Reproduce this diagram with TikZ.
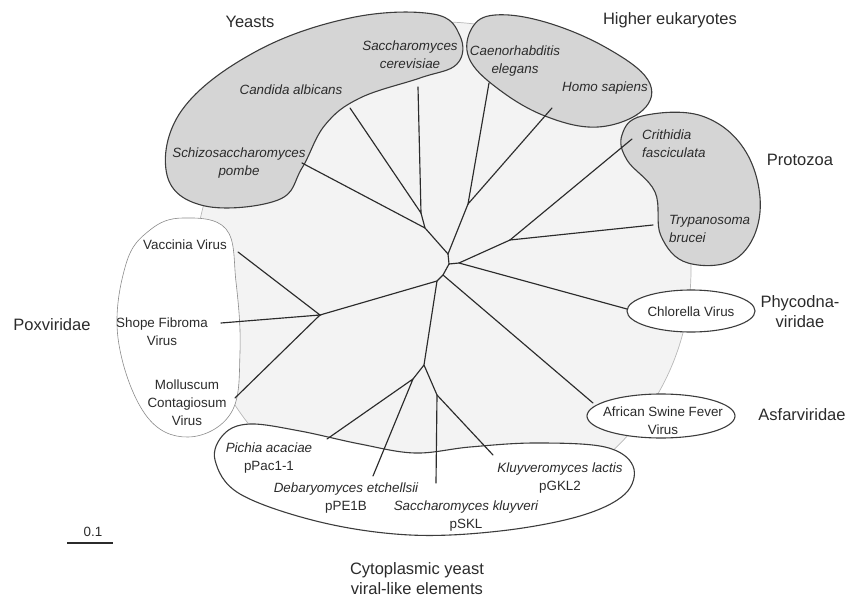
\documentclass[tikz,border=0pt]{standalone}
\usepackage{fontspec}
\setmainfont{Liberation Sans}
\usetikzlibrary{positioning}
\definecolor{Ink}{HTML}{2B2B2B}
\definecolor{DiscFill}{HTML}{F3F3F3}
\definecolor{DiscEdge}{HTML}{B8B8B8}
\definecolor{CladeFill}{HTML}{D5D5D5}
\definecolor{CladeEdge}{HTML}{3C3C3C}
\definecolor{PoxEdge}{HTML}{8C8C8C}
\tikzset{
  treedisc/.style={draw=DiscEdge,fill=DiscFill,line width=0.7pt},
  cladeblob/.style={draw=CladeEdge,fill=CladeFill,line width=1.1pt},
  virusblob/.style={draw=CladeEdge,fill=white,line width=1.1pt},
  poxblob/.style={draw=PoxEdge,fill=white,line width=0.6pt},
  treearm/.style={draw=Ink,line width=1.15pt,line cap=round},
  taxon/.style={align=center,font=\fontsize{13.4}{18}\selectfont\itshape,text=Ink,inner sep=0pt},
  virus/.style={align=center,font=\fontsize{13.4}{18}\selectfont,text=Ink,inner sep=0pt},
  grouplabel/.style={align=center,font=\fontsize{16.5}{20}\selectfont,text=Ink,inner sep=0pt}
}

\begin{document}
\begin{tikzpicture}[x=1pt,y=-1pt]
  \useasboundingbox (0,0) rectangle (847,597);

  % background disc
  \draw[treedisc] (443,270) circle[radius=248pt];

  % clade outlines
  \draw[cladeblob] plot[smooth cycle,tension=0.65] coordinates {(433,14) (460,36) (457,64) (420,78) (360,98) (325,125) (302,168) (278,200) (205,206) (167,175) (182,110) (255,52) (350,18)};
  \draw[cladeblob] plot[smooth cycle,tension=0.65] coordinates {(472,28) (495,15) (545,22) (605,47) (648,80) (643,110) (598,127) (545,116) (497,88) (469,58)};
  \draw[cladeblob] plot[smooth cycle,tension=0.65] coordinates {(642,116) (702,116) (746,152) (760,212) (737,258) (688,263) (661,236) (655,192) (627,160) (622,135)};
  \draw[poxblob] plot[smooth cycle,tension=0.65] coordinates {(183,218) (226,229) (236,282) (240,352) (231,413) (188,437) (145,414) (118,338) (126,264) (150,230)};
  \draw[virusblob] plot[smooth cycle,tension=0.6] coordinates {(250,424) (300,431) (360,444) (415,453) (470,447) (535,443) (605,447) (633,466) (625,494) (580,516) (500,531) (410,535) (320,522) (240,494) (215,460) (224,434)};
  \draw[virusblob] (691,311) ellipse[x radius=64pt,y radius=21pt];
  \draw[virusblob] (661,416) ellipse[x radius=74pt,y radius=22pt];

  % tree: inner nodes
  \coordinate (nScCa) at (421,213);
  \coordinate (nYeast) at (425,228);
  \coordinate (nHigh) at (468,204);
  \coordinate (nA) at (448,254);
  \coordinate (nB) at (449,264);
  \coordinate (nProtC) at (459,263);
  \coordinate (nProt) at (510,240);
  \coordinate (nC) at (443,275);
  \coordinate (nD) at (437,281);
  \coordinate (nPox) at (320,315);
  \coordinate (nPl) at (424,365);
  \coordinate (nPD) at (413,379);
  \coordinate (nSK) at (437,395);
  % tree: leaf ends
  \coordinate (lSc) at (418,87);
  \coordinate (lCa) at (350,108);
  \coordinate (lSp) at (302,163);
  \coordinate (lCe) at (489,83);
  \coordinate (lHs) at (552,108);
  \coordinate (lCf) at (632,139);
  \coordinate (lTb) at (653,225);
  \coordinate (lCv) at (627,309);
  \coordinate (lAs) at (593,403);
  \coordinate (lVv) at (238,252);
  \coordinate (lSf) at (221,323);
  \coordinate (lMc) at (235,398);
  \coordinate (lPa) at (327,439);
  \coordinate (lDe) at (373,476);
  \coordinate (lSk) at (436,483);
  \coordinate (lKl) at (493,455);

  \draw[treearm] (lSc) -- (nScCa) -- (lCa);
  \draw[treearm] (nScCa) -- (nYeast) -- (lSp);
  \draw[treearm] (nYeast) -- (nA) -- (nHigh);
  \draw[treearm] (lCe) -- (nHigh) -- (lHs);
  \draw[treearm] (nA) -- (nB) -- (nProtC) -- (nProt);
  \draw[treearm] (lCf) -- (nProt) -- (lTb);
  \draw[treearm] (nProtC) -- (lCv);
  \draw[treearm] (nB) -- (nC) -- (lAs);
  \draw[treearm] (nC) -- (nD) -- (nPox);
  \draw[treearm] (lVv) -- (nPox) -- (lSf);
  \draw[treearm] (nPox) -- (lMc);
  \draw[treearm] (nD) -- (nPl) -- (nPD);
  \draw[treearm] (lPa) -- (nPD) -- (lDe);
  \draw[treearm] (nPl) -- (nSK) -- (lSk);
  \draw[treearm] (nSK) -- (lKl);

  % taxa
  \node[taxon] (tSc) at (410,55) {Saccharomyces\\cerevisiae};
  \node[taxon] (tCa) at (291,90) {Candida albicans};
  \node[taxon] (tSp) at (239,163) {Schizosaccharomyces\\pombe};
  \node[taxon] (tCe) at (515,61) {Caenorhabditis\\elegans};
  \node[taxon] (tHs) at (605,88) {Homo sapiens};
  \node[taxon,align=left,anchor=west] (tCf) at (642,144) {Crithidia\\fasciculata};
  \node[taxon,align=left,anchor=west] (tTb) at (669,229) {Trypanosoma\\brucei};
  \node[virus] (tCv) at (691,312) {Chlorella Virus};
  \node[virus] (tAs) at (663,421) {African Swine Fever\\Virus};
  \node[virus] (tVv) at (185,245) {Vaccinia Virus};
  \node[virus] (tSf) at (162,332) {Shope Fibroma\\Virus};
  \node[virus] (tMc) at (187,403) {Molluscum\\Contagiosum\\Virus};
  \node[virus] (tPa) at (269,458) {{\itshape Pichia acaciae}\\pPac1-1};
  \node[virus] (tDe) at (346,498) {{\itshape Debaryomyces etchellsii}\\pPE1B};
  \node[virus] (tSk) at (466,516) {{\itshape Saccharomyces kluyveri}\\pSKL};
  \node[virus] (tKl) at (560,478) {{\itshape Kluyveromyces lactis}\\pGKL2};

  % groups
  \node[grouplabel] (gYeast) at (250,22) {Yeasts};
  \node[grouplabel] (gHigh) at (670,20) {Higher eukaryotes};
  \node[grouplabel] (gProt) at (800,160) {Protozoa};
  \node[grouplabel] (gPhyc) at (800,312) {Phycodna-\\viridae};
  \node[grouplabel] (gAsf) at (802,415) {Asfarviridae};
  \node[grouplabel] (gPox) at (52,325) {Poxviridae};
  \node[grouplabel] (gCyto) at (417,579) {Cytoplasmic yeast\\viral-like elements};

  % scale
  \coordinate (sbL) at (67,543);
  \coordinate (sbR) at (113,543);
  \draw[treearm,line cap=butt] (sbL) -- (sbR);
  \node[virus] (sbT) at (93,532) {0.1};
\end{tikzpicture}
\end{document}
